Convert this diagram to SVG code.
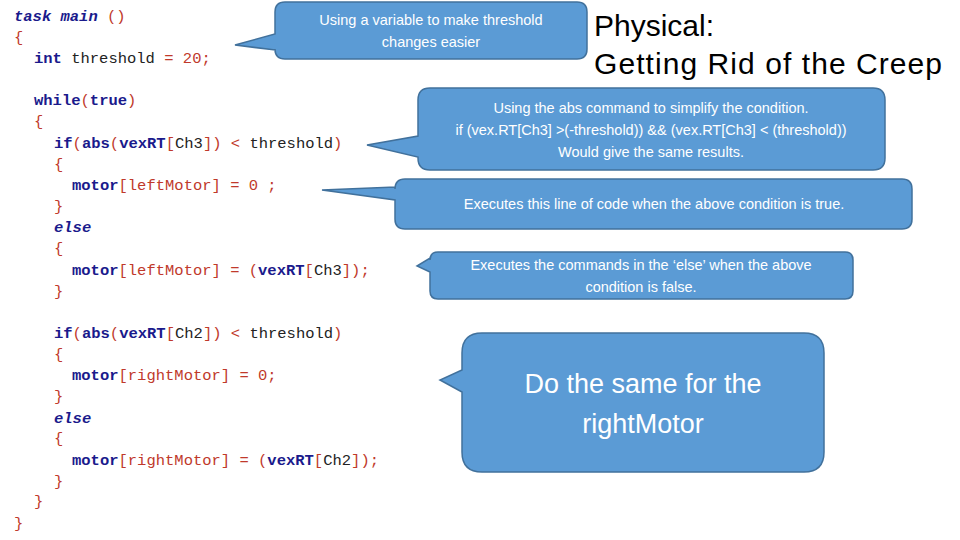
<svg xmlns="http://www.w3.org/2000/svg" width="960" height="540" viewBox="0 0 960 540">
<style>
.code{font-family:"Liberation Mono","Courier New",monospace;font-size:15.5px;fill:#222;}
.k{fill:#1a1a8c;font-weight:bold;}
.p{fill:#c0392b;}
.call{fill:#5b9bd5;stroke:#41719c;stroke-width:1.5;}
.ct{font-family:"Liberation Sans",Arial,sans-serif;font-size:14.5px;fill:#fff;text-anchor:middle;}
.title{font-family:"Liberation Sans",Arial,sans-serif;font-size:30px;fill:#000;}
</style>
<rect width="960" height="540" fill="#fff"/>
<g id="code" class="code">
<text x="14" y="21"><tspan class="k" font-style="italic">task main</tspan> <tspan class="p">()</tspan></text>
<text x="14" y="42" class="p">{</text>
<text x="34" y="63"><tspan class="k">int</tspan> threshold <tspan class="p">= 20;</tspan></text>
<text x="34" y="105"><tspan class="k">while</tspan><tspan class="p">(</tspan><tspan class="k">true</tspan><tspan class="p">)</tspan></text>
<text x="34" y="126" class="p">{</text>
<text x="54" y="148"><tspan class="k">if</tspan><tspan class="p">(</tspan><tspan class="k">abs</tspan><tspan class="p">(</tspan><tspan class="k">vexRT</tspan><tspan class="p">[</tspan>Ch3<tspan class="p">]) &lt; </tspan>threshold<tspan class="p">)</tspan></text>
<text x="54" y="169" class="p">{</text>
<text x="72" y="190"><tspan class="k">motor</tspan><tspan class="p">[leftMotor]  = 0 ;</tspan></text>
<text x="54" y="211" class="p">}</text>
<text x="54" y="232" class="k" font-style="italic">else</text>
<text x="54" y="253" class="p">{</text>
<text x="72" y="275"><tspan class="k">motor</tspan><tspan class="p">[leftMotor]  = (</tspan><tspan class="k">vexRT</tspan><tspan class="p">[</tspan>Ch3<tspan class="p">]);</tspan></text>
<text x="54" y="296" class="p">}</text>
<text x="54" y="338"><tspan class="k">if</tspan><tspan class="p">(</tspan><tspan class="k">abs</tspan><tspan class="p">(</tspan><tspan class="k">vexRT</tspan><tspan class="p">[</tspan>Ch2<tspan class="p">]) &lt; </tspan>threshold<tspan class="p">)</tspan></text>
<text x="54" y="359" class="p">{</text>
<text x="72" y="380"><tspan class="k">motor</tspan><tspan class="p">[rightMotor] = 0;</tspan></text>
<text x="54" y="401" class="p">}</text>
<text x="54" y="423" class="k" font-style="italic">else</text>
<text x="54" y="443" class="p">{</text>
<text x="72" y="465"><tspan class="k">motor</tspan><tspan class="p">[rightMotor] = (</tspan><tspan class="k">vexRT</tspan><tspan class="p">[</tspan>Ch2<tspan class="p">]);</tspan></text>
<text x="54" y="486" class="p">}</text>
<text x="34" y="506" class="p">}</text>
<text x="14" y="528" class="p">}</text>
</g>
<g id="title">
<text class="title" x="594" y="36">Physical:</text>
<text class="title" x="594" y="74" textLength="348">Getting Rid of the Creep</text>
</g>
<g id="connectors"></g>
<g id="c1">
<path class="call" d="M285,2 H577 Q587,2 587,12 V49 Q587,59 577,59 H285 Q275,59 275,49 V50 L235,45 L275,34 V12 Q275,2 285,2 Z"/>
<text class="ct" x="431" y="25">Using a variable to make threshold</text>
<text class="ct" x="431" y="47">changes easier</text>
</g>
<g id="c2">
<path class="call" d="M430,88 H873 Q885,88 885,100 V158 Q885,170 873,170 H430 Q418,170 418,158 V157 L367,145 L418,136 V100 Q418,88 430,88 Z"/>
<text class="ct" x="651" y="113">Using the abs command to simplify the condition.</text>
<text class="ct" x="651" y="135">if (vex.RT[Ch3] &gt;(-threshold)) &amp;&amp; (vex.RT[Ch3] &lt; (threshold))</text>
<text class="ct" x="651" y="157">Would give the same results.</text>
</g>
<g id="c3">
<path class="call" d="M405,179 H902 Q912,179 912,189 V219 Q912,229 902,229 H405 Q395,229 395,219 V200 L322,190 L395,187 V189 Q395,179 405,179 Z"/>
<text class="ct" x="654" y="209">Executes this line of code when the above condition is true.</text>
</g>
<g id="c4">
<path class="call" d="M438,252 H845 Q853,252 853,260 V291 Q853,299 845,299 H438 Q430,299 430,291 V272 L417,266 L430,258 V260 Q430,252 438,252 Z"/>
<text class="ct" x="641" y="270">Executes the commands in the ‘else’ when the above</text>
<text class="ct" x="641" y="292">condition is false.</text>
</g>
<g id="c5">
<path class="call" d="M482,333 H804 Q824,333 824,353 V452 Q824,472 804,472 H482 Q462,472 462,452 V392 L440,380 L462,370 V353 Q462,333 482,333 Z"/>
<text class="ct" x="643" y="393" style="font-size:27px">Do the same for the</text>
<text class="ct" x="643" y="433" style="font-size:27px">rightMotor</text>
</g>
</svg>
